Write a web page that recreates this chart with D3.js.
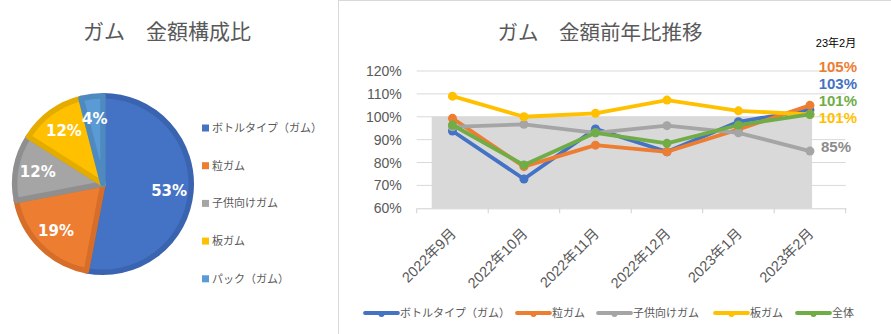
<!DOCTYPE html>
<html>
<head>
<meta charset="utf-8">
<script src="https://cdn.jsdelivr.net/npm/d3@7"></script>
<style>
  body { margin: 0; background: #fff; }
  svg { display: block; }
  text { font-family: "Liberation Sans", "Noto Sans CJK JP", sans-serif; }
</style>
</head>
<body>
<svg id="chart" width="891" height="334"></svg>
<script>
// ---- composition (pie) ----
const pieCategories = ["ボトルタイプ（ガム）", "粒ガム", "子供向けガム", "板ガム", "パック（ガム）"];
const pieShares = [53, 19, 12, 12, 4];

// ---- year-over-year trend (lines), % ----
const months = ["2022年9月", "2022年10月", "2022年11月", "2022年12月", "2023年1月", "2023年2月"];
const seriesNames = ["ボトルタイプ（ガム）", "粒ガム", "子供向けガム", "板ガム", "全体"];
const bottleYoY = [93.8, 72.8, 94.7, 84.7, 97.8, 103];
const tsubuYoY  = [99.3, 78.2, 87.6, 84.7, 94.5, 105];
const kidsYoY   = [95.6, 96.7, 93.0, 96.1, 93.0, 85];
const itaYoY    = [109.0, 100.0, 101.5, 107.3, 102.6, 101];
const totalYoY  = [96.4, 78.9, 93.0, 88.4, 96.4, 101];
const yTicks = [60, 70, 80, 90, 100, 110, 120];
const baselineValue = 100;
const latestHeader = "23年2月";

const svg = d3.select("#chart");
const textGray = "#595959";

// ================= Pie =================
const pieFill   = ["#4472C4", "#ED7D31", "#A5A5A5", "#FFC000", "#5B9BD5"];
const pieStroke = ["#3B64B0", "#D66E2A", "#8F8F8F", "#E5AC00", "#4E89C0"];

svg.append("text")
  .attr("x", 167).attr("y", 39)
  .attr("text-anchor", "middle")
  .attr("font-size", 21)
  .attr("fill", textGray)
  .text("ガム\u3000金額構成比");

const pieCx = 103, pieCy = 184, pieR = 91;
const pieGen = d3.pie().sort(null).value(d => d);
const arcs = pieGen(pieShares);
const sw = 5.5;
const arcGen = d3.arc().innerRadius(0).outerRadius(pieR - sw / 2);
const labelArc = d3.arc().innerRadius(pieR * 0.73).outerRadius(pieR * 0.73);

const pieG = svg.append("g").attr("transform", `translate(${pieCx},${pieCy})`);
pieG.selectAll("path.slice").data(arcs).join("path")
  .attr("class", "slice")
  .attr("d", arcGen)
  .attr("fill", (d, i) => pieFill[i])
  .attr("stroke", (d, i) => pieStroke[i])
  .attr("stroke-width", sw)
  .attr("stroke-linejoin", "round");

pieG.selectAll("text.plabel").data(arcs).join("text")
  .attr("class", "plabel")
  .attr("transform", d => `translate(${labelArc.centroid(d)})`)
  .attr("text-anchor", "middle")
  .attr("dy", "0.36em")
  .attr("font-size", 15)
  .attr("font-weight", "bold")
  .attr("fill", "#fff")
  .style("font-family", '"DejaVu Sans", sans-serif')
  .text(d => d.data + "%");

const pieLegend = svg.append("g");
pieCategories.forEach((name, i) => {
  const cy = 128 + i * 37.7;
  pieLegend.append("rect")
    .attr("x", 202).attr("y", cy - 3.5)
    .attr("width", 7).attr("height", 7)
    .attr("fill", pieFill[i]);
  pieLegend.append("text")
    .attr("x", 212).attr("y", cy)
    .attr("dy", "0.35em")
    .attr("font-size", 11)
    .attr("fill", textGray)
    .text(name);
});

// panel frame
svg.append("line").attr("x1", 338.5).attr("x2", 338.5).attr("y1", 0).attr("y2", 334)
  .attr("stroke", "#D9D9D9");
svg.append("line").attr("x1", 338).attr("x2", 891).attr("y1", 0.5).attr("y2", 0.5)
  .attr("stroke", "#D9D9D9");

// ================= Lines =================
const lineColors = ["#4472C4", "#ED7D31", "#A5A5A5", "#FFC000", "#70AD47"];
const seriesValues = [bottleYoY, tsubuYoY, kidsYoY, itaYoY, totalYoY];

svg.append("text")
  .attr("x", 600).attr("y", 40)
  .attr("text-anchor", "middle")
  .attr("font-size", 20.5)
  .attr("fill", textGray)
  .text("ガム\u3000金額前年比推移");

const x = d3.scaleBand().domain(months).range([416.7, 845.7]).padding(0);
const y = d3.scaleLinear().domain([60, 120]).range([208.3, 71]);
const cx = m => x(m) + x.bandwidth() / 2;

// gridlines
svg.append("g").selectAll("line").data(yTicks.slice(1)).join("line")
  .attr("x1", 416.7).attr("x2", 845.7)
  .attr("y1", d => y(d)).attr("y2", d => y(d))
  .attr("stroke", "#D9D9D9").attr("stroke-width", 1);

// shaded region below the 100% baseline
const shadeL = x(months[0]) + x.bandwidth() * 0.21;
const shadeR = x(months[months.length - 1]) + x.bandwidth() * 0.53;
svg.append("rect")
  .attr("x", shadeL)
  .attr("width", shadeR - shadeL)
  .attr("y", y(baselineValue))
  .attr("height", y(60) - y(baselineValue))
  .attr("fill", "#D9D9D9");

// y axis labels
const yAxis = d3.axisLeft(y).tickValues(yTicks).tickFormat(d => d + "%").tickSize(0).tickPadding(0);
const yG = svg.append("g").attr("transform", "translate(401.7,0)").call(yAxis);
yG.select(".domain").remove();
yG.selectAll("text").attr("font-size", 14).attr("fill", textGray)
  .style("font-family", '"Liberation Sans","Noto Sans CJK JP",sans-serif');

// x axis with boundary ticks
const xAxis = d3.axisBottom(x).tickSize(0).tickFormat("");
const xG = svg.append("g").attr("transform", `translate(0,${y(60)})`).call(xAxis);
xG.select(".domain").attr("stroke", "#D0D0D0");
const boundaries = months.map(m => x(m)).concat([x(months[months.length - 1]) + x.bandwidth()]);
xG.selectAll("line.bound").data(boundaries).join("line")
  .attr("class", "bound")
  .attr("x1", d => d).attr("x2", d => d)
  .attr("y1", 0).attr("y2", 5)
  .attr("stroke", "#D0D0D0");

svg.append("g").selectAll("text").data(months).join("text")
  .attr("transform", d => `translate(${cx(d) + 1},${231}) rotate(-45)`)
  .attr("text-anchor", "end")
  .attr("dy", "0.35em")
  .attr("font-size", 14.5)
  .attr("fill", textGray)
  .text(d => d);

// series
const lineGen = d3.line().x((d, i) => cx(months[i])).y(d => y(d));
seriesValues.forEach((vals, s) => {
  const g = svg.append("g");
  g.append("path")
    .attr("d", lineGen(vals))
    .attr("fill", "none")
    .attr("stroke", lineColors[s])
    .attr("stroke-width", 3.8)
    .attr("stroke-linejoin", "round")
    .attr("stroke-linecap", "round");
  g.selectAll("circle").data(vals).join("circle")
    .attr("cx", (d, i) => cx(months[i]))
    .attr("cy", d => y(d))
    .attr("r", 4.5)
    .attr("fill", lineColors[s]);
});

// latest month value callouts
svg.append("text")
  .attr("x", 836).attr("y", 43)
  .attr("text-anchor", "middle").attr("dy", "0.35em")
  .attr("font-size", 11).attr("fill", "#000")
  .text(latestHeader);

const last = months.length - 1;
const stackOrder = [1, 0, 4, 3]; // 粒ガム, ボトル, 全体, 板ガム
stackOrder.forEach((s, k) => {
  svg.append("text")
    .attr("x", 857).attr("y", 67 + k * 17)
    .attr("text-anchor", "end").attr("dy", "0.36em")
    .attr("font-size", 15).attr("font-weight", "bold")
    .attr("fill", lineColors[s])
    .text(seriesValues[s][last] + "%");
});
svg.append("text")
  .attr("x", 836).attr("y", y(kidsYoY[last]) - 4)
  .attr("text-anchor", "middle").attr("dy", "0.36em")
  .attr("font-size", 15).attr("font-weight", "bold")
  .attr("fill", "#8C8C8C")
  .text(kidsYoY[last] + "%");

// bottom legend
const legendStarts = [365, 517, 598, 715, 797];
seriesNames.forEach((name, s) => {
  const lx = legendStarts[s], ly = 313;
  svg.append("line")
    .attr("x1", lx).attr("x2", lx + 33).attr("y1", ly).attr("y2", ly)
    .attr("stroke", lineColors[s]).attr("stroke-width", 3.8).attr("stroke-linecap", "round");
  svg.append("circle").attr("cx", lx + 16.5).attr("cy", ly + 1).attr("r", 3).attr("fill", lineColors[s]);
  svg.append("text")
    .attr("x", lx + 35).attr("y", ly).attr("dy", "0.35em")
    .attr("font-size", 11).attr("fill", textGray)
    .text(name);
});
</script>
</body>
</html>
